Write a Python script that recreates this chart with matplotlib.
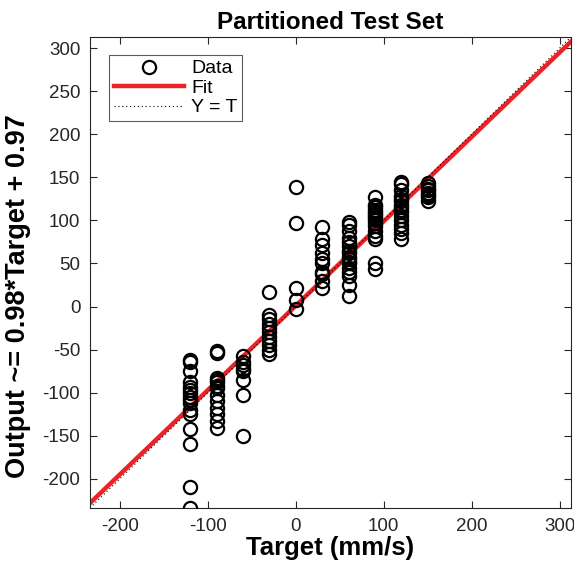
import matplotlib
matplotlib.use("Agg")
import matplotlib.pyplot as plt
import numpy as np

plt.rcParams['font.family'] = ['Liberation Sans', 'DejaVu Sans']
plt.rcParams['axes.unicode_minus'] = False

# Data: target -> list of outputs
targets_groups = [-120, -90, -60, -30, 0, 30, 60, 90, 120, 150]
outputs_m120 = [-62, -65, -75, -88, -93, -97, -100, -105, -108, -112, -120, -125, -142, -160, -210, -234]
outputs_m90 = [-52, -54, -83, -85, -88, -92, -95, -103, -110, -118, -125, -133, -141]
outputs_m60 = [-58, -65, -68, -72, -75, -85, -103, -150]
outputs_m30 = [17, -10, -15, -20, -25, -30, -35, -40, -45, -50, -55]
outputs_0 = [139, 97, 22, 8, -3]
outputs_30 = [92, 78, 72, 62, 55, 50, 40, 38, 30, 22]
outputs_60 = [98, 95, 88, 80, 75, 70, 65, 62, 58, 55, 52, 50, 45, 40, 35, 25, 12]
outputs_90 = [127, 118, 115, 112, 110, 108, 105, 103, 100, 97, 93, 88, 82, 78, 50, 43]
outputs_120 = [145, 142, 135, 128, 125, 122, 118, 115, 112, 110, 105, 100, 95, 90, 85, 78]
outputs_150 = [143, 140, 137, 135, 132, 130, 127, 123]

groups = [outputs_m120, outputs_m90, outputs_m60, outputs_m30, outputs_0,
          outputs_30, outputs_60, outputs_90, outputs_120, outputs_150]

fit_slope = 0.98
fit_offset = 0.97
axis_limits = [-234, 313]
ticks = [-200, -100, 0, 100, 200, 300]
yticks = [-200, -150, -100, -50, 0, 50, 100, 150, 200, 250, 300]

T = np.concatenate([[t] * len(g) for t, g in zip(targets_groups, groups)])
Y = np.concatenate(groups)

W, H = 574, 565
fig = plt.figure(figsize=(W / 100, H / 100), dpi=100)
ax = fig.add_axes([90 / W, (H - 508) / H, (571 - 90) / W, (508 - 37) / H])

line_x = np.array(axis_limits, dtype=float)
ax.plot(line_x, fit_slope * line_x + fit_offset, color='#ec2227', lw=3.2, label='Fit', zorder=2)
ax.plot(line_x, line_x, color='black', lw=0.8, ls=(0, (1, 2.5)), label='Y = T', zorder=2.5)
ax.plot(T, Y, 'o', mfc='none', mec='black', mew=1.6, ms=9.5, label='Data', zorder=3)

ax.set_xlim(axis_limits)
ax.set_ylim(axis_limits)
ax.set_xticks(ticks)
ax.set_yticks(yticks)
ax.tick_params(direction='in', top=True, right=True, length=5, width=0.8,
               labelsize=13.5, colors='#262626', pad=7)
for s in ax.spines.values():
    s.set_color('#262626')
    s.set_linewidth(0.8)

ax.set_title('Partitioned Test Set', fontsize=17.5, fontweight='bold', pad=6)
ax.set_xlabel('Target (mm/s)', fontsize=18.5, fontweight='bold', labelpad=1)
ax.set_ylabel('Output ~= 0.98*Target + 0.97', fontsize=19.5, fontweight='bold')
ax.yaxis.set_label_coords(-0.122, 0.45)

handles, labels = ax.get_legend_handles_labels()
order = [2, 0, 1]
leg = ax.legend([handles[i] for i in order], [labels[i] for i in order],
                loc='upper left', bbox_to_anchor=(0.04, 0.962), fontsize=14,
                frameon=True, fancybox=False, edgecolor='#333333',
                handlelength=3.6, borderpad=0.25, labelspacing=0.1,
                handletextpad=0.35, borderaxespad=0.0, markerfirst=True)
leg.get_frame().set_linewidth(0.8)

fig.savefig('out.png', dpi=100)
